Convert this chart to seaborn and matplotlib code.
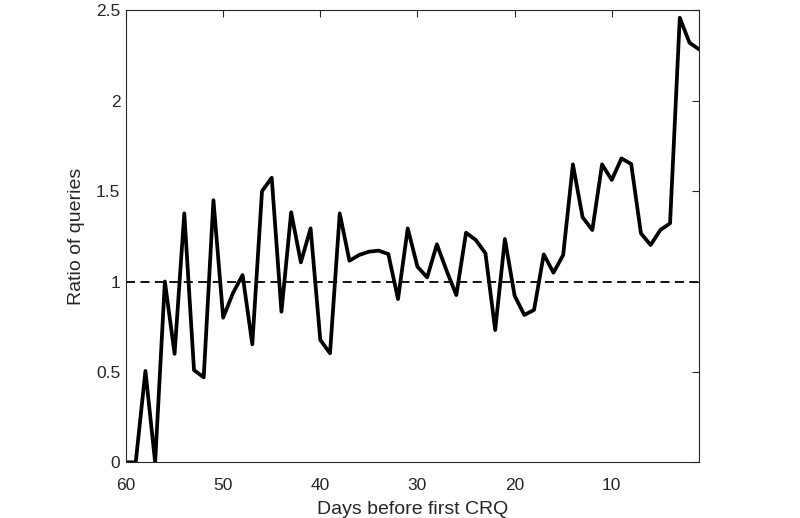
import numpy as np
import pandas as pd
import matplotlib
matplotlib.use("Agg")
import matplotlib.pyplot as plt
import seaborn as sns

# days before first CRQ (60 down to 1) and ratio of queries
days = list(range(60, 0, -1))
ratio = [0.0, 0.0, 0.505, 0.0, 1.0, 0.6, 1.377, 0.51, 0.47, 1.45,
         0.8, 0.935, 1.036, 0.653, 1.5, 1.574, 0.833, 1.383, 1.106, 1.294,
         0.677, 0.603, 1.377, 1.115, 1.147, 1.165, 1.171, 1.152, 0.903, 1.294,
         1.082, 1.023, 1.206, 1.06, 0.925, 1.27, 1.23, 1.156, 0.732, 1.235,
         0.922, 0.815, 0.843, 1.15, 1.049, 1.147, 1.648, 1.355, 1.285, 1.648,
         1.562, 1.681, 1.65, 1.267, 1.202, 1.285, 1.322, 2.459, 2.321, 2.284]
baseline = 1.0

x_ticks = [60, 50, 40, 30, 20, 10]
y_ticks = [0, 0.5, 1, 1.5, 2, 2.5]
y_labels = ["0", "0.5", "1", "1.5", "2", "2.5"]

df = pd.DataFrame({"days": days, "ratio": ratio})

sns.set_style("white")
plt.rcParams["font.family"] = ["Liberation Sans", "DejaVu Sans"]

fig = plt.figure(figsize=(8, 5.18), dpi=100)
ax = fig.add_axes([0.1575, 0.1075, 0.7165, 0.8725])

sns.lineplot(data=df, x="days", y="ratio", ax=ax, color="black", linewidth=2.7)
ax.axhline(baseline, color="black", linestyle=(0, (5, 3)), linewidth=1.3)

ax.set_xlim(60, 1)
ax.set_ylim(0, 2.5)
ax.set_xticks(x_ticks)
ax.set_yticks(y_ticks)
ax.set_yticklabels(y_labels)

edge = "#262626"
for s in ax.spines.values():
    s.set_color(edge)
    s.set_linewidth(0.8)
ax.tick_params(direction="in", top=True, right=True, length=5, width=0.8,
               color=edge, labelcolor=edge, labelsize=12.5)
ax.tick_params(axis="x", pad=11)
ax.tick_params(axis="y", pad=4)

ax.set_xlabel("Days before first CRQ", fontsize=14, color=edge, labelpad=6)
ax.set_ylabel("Ratio of queries", fontsize=14, color=edge, labelpad=8)

fig.savefig("out.png", dpi=100)
